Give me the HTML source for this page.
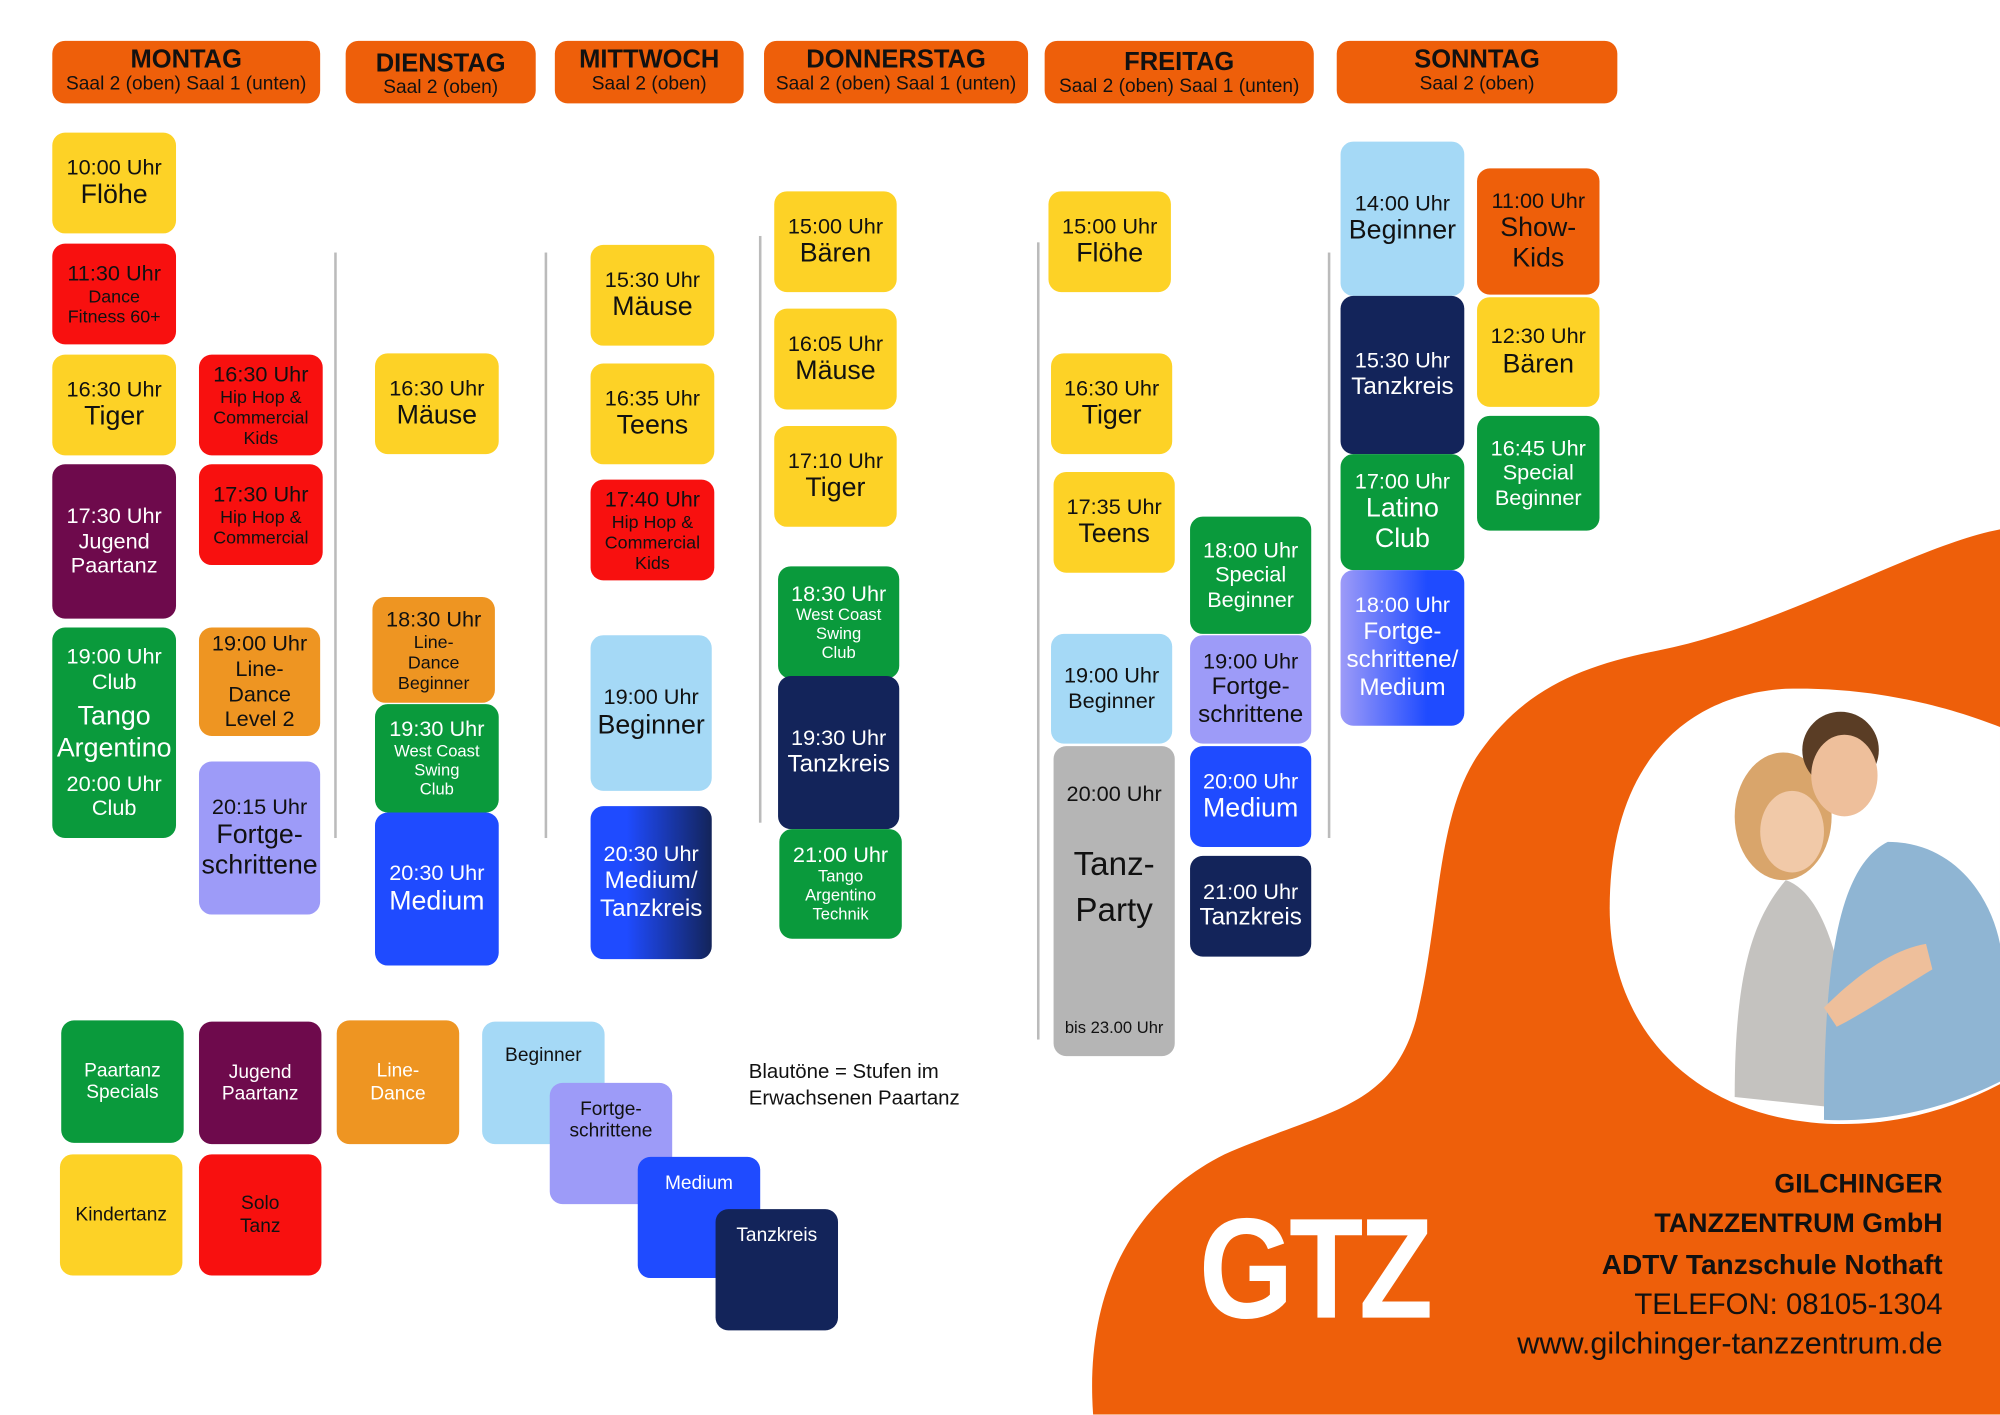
<!DOCTYPE html>
<html><head><meta charset="utf-8">
<style>
html,body{margin:0;padding:0;background:#fff;overflow:hidden;width:2000px;height:1414px}
#s{position:absolute;left:0;top:0;width:1568px;height:1109px;transform:scale(1.27551);transform-origin:0 0;font-family:"Liberation Sans",sans-serif;overflow:hidden}
.b{position:absolute;border-radius:10px;display:flex;flex-direction:column;justify-content:center;align-items:center;text-align:center;line-height:1.15;box-sizing:border-box;padding:2px}
.t{font-size:17px}.n{font-size:21px}.sm{font-size:14px}.xs{font-size:13px}
.y{background:#FDD226;color:#111}.r{background:#F8100F;color:#111}.p{background:#6E0A4C;color:#fff}.g{background:#0A9A3C;color:#fff}
.o{background:#EE9522;color:#111}.lb{background:#A5D9F6;color:#111}.lv{background:#9D9BF8;color:#111}.bl{background:#1F4BFF;color:#fff}
.nv{background:#13245A;color:#fff}.gr{background:#B5B5B5;color:#111}.or{background:#EE5F0A;color:#111}
.h{position:absolute;background:#EE5F0A;border-radius:10px;text-align:center;color:#111;top:32px;height:49px;box-sizing:border-box;padding-top:5px}
.h b{display:block;font-size:20px;line-height:20px}.h span{font-size:15px;line-height:17px}
.l{position:absolute;width:2px;background:#bbb}
.co{position:absolute;right:45px;text-align:right;color:#111;white-space:nowrap}
</style></head><body><div id="s">
<svg width="1568" height="1109" style="position:absolute;left:0;top:0">
<path d="M857,1109 C850,1010 890,940 960,905 C1040,870 1090,870 1110,800 C1130,720 1125,640 1160,590 C1195,540 1240,522 1300,510 C1400,490 1500,428 1568,415 L1568,1109 Z" fill="#EE5F0A"/>
<path d="M1262,712 C1262,600 1320,545 1400,540 C1470,538 1530,555 1568,570 L1568,850 C1520,875 1470,885 1420,880 C1320,870 1262,800 1262,712 Z" fill="#fff"/>
<path d="M1360,860 C1360,760 1375,720 1400,690 C1430,700 1450,760 1455,870 Z" fill="#c4c2bf"/>
<ellipse cx="1398" cy="640" rx="38" ry="50" fill="#d9a56b"/>
<ellipse cx="1405" cy="652" rx="25" ry="32" fill="#f1c9a8"/>
<path d="M1430,878 C1430,760 1440,680 1480,660 C1530,660 1560,700 1568,740 L1568,848 C1520,872 1470,880 1430,878 Z" fill="#8fb5d3"/>
<ellipse cx="1443" cy="588" rx="30" ry="30" fill="#5a3d25"/>
<ellipse cx="1446" cy="608" rx="26" ry="32" fill="#eebf9b"/>
<path d="M1430,790 C1450,770 1480,745 1510,740 L1515,760 C1490,775 1460,795 1440,805 Z" fill="#eebf9b"/>
</svg>
<div class="h" style="left:41px;width:210px"><b>MONTAG</b><span>Saal 2 (oben) Saal 1 (unten)</span></div>
<div class="h" style="left:271px;width:149px;padding-top:8px"><b>DIENSTAG</b><span>Saal 2 (oben)</span></div>
<div class="h" style="left:435px;width:148px"><b>MITTWOCH</b><span>Saal 2 (oben)</span></div>
<div class="h" style="left:599px;width:207px"><b>DONNERSTAG</b><span>Saal 2 (oben) Saal 1 (unten)</span></div>
<div class="h" style="left:819px;width:211px;padding-top:7px"><b>FREITAG</b><span>Saal 2 (oben) Saal 1 (unten)</span></div>
<div class="h" style="left:1048px;width:220px"><b>SONNTAG</b><span>Saal 2 (oben)</span></div>

<div class="l" style="left:262px;top:198px;height:459px"></div>
<div class="l" style="left:427px;top:198px;height:459px"></div>
<div class="l" style="left:595px;top:185px;height:460px"></div>
<div class="l" style="left:813px;top:190px;height:625px"></div>
<div class="l" style="left:1041px;top:198px;height:459px"></div>

<div class="b y" style="left:41px;top:104px;width:97px;height:79px"><div class="t">10:00 Uhr</div><div class="n">Flöhe</div></div>
<div class="b r" style="left:41px;top:191px;width:97px;height:79px"><div class="t">11:30 Uhr</div><div class="sm">Dance<br>Fitness 60+</div></div>
<div class="b y" style="left:41px;top:278px;width:97px;height:79px"><div class="t">16:30 Uhr</div><div class="n">Tiger</div></div>
<div class="b p" style="left:41px;top:364px;width:97px;height:121px"><div class="t">17:30 Uhr<br>Jugend<br>Paartanz</div></div>
<div class="b g" style="left:41px;top:492px;width:97px;height:165px"><div class="t">19:00 Uhr<br>Club</div><div class="n" style="margin:6px 0">Tango<br>Argentino</div><div class="t">20:00 Uhr<br>Club</div></div>
<div class="b r" style="left:156px;top:278px;width:97px;height:79px"><div class="t">16:30 Uhr</div><div class="sm">Hip Hop &amp;<br>Commercial<br>Kids</div></div>
<div class="b r" style="left:156px;top:364px;width:97px;height:79px"><div class="t">17:30 Uhr</div><div class="sm">Hip Hop &amp;<br>Commercial</div></div>
<div class="b o" style="left:156px;top:492px;width:95px;height:85px"><div class="t">19:00 Uhr<br>Line-<br>Dance<br>Level 2</div></div>
<div class="b lv" style="left:156px;top:597px;width:95px;height:120px"><div class="t">20:15 Uhr</div><div class="n">Fortge-<br>schrittene</div></div>

<div class="b y" style="left:294px;top:277px;width:97px;height:79px"><div class="t">16:30 Uhr</div><div class="n">Mäuse</div></div>
<div class="b o" style="left:292px;top:468px;width:96px;height:83px"><div class="t">18:30 Uhr</div><div class="sm">Line-<br>Dance<br>Beginner</div></div>
<div class="b g" style="left:294px;top:552px;width:97px;height:85px"><div class="t">19:30 Uhr</div><div class="xs">West Coast<br>Swing<br>Club</div></div>
<div class="b bl" style="left:294px;top:637px;width:97px;height:120px"><div class="t">20:30 Uhr</div><div class="n">Medium</div></div>

<div class="b y" style="left:463px;top:192px;width:97px;height:79px"><div class="t">15:30 Uhr</div><div class="n">Mäuse</div></div>
<div class="b y" style="left:463px;top:285px;width:97px;height:79px"><div class="t">16:35 Uhr</div><div class="n">Teens</div></div>
<div class="b r" style="left:463px;top:376px;width:97px;height:79px"><div class="t">17:40 Uhr</div><div class="sm">Hip Hop &amp;<br>Commercial<br>Kids</div></div>
<div class="b lb" style="left:463px;top:498px;width:95px;height:122px"><div class="t">19:00 Uhr</div><div class="n">Beginner</div></div>
<div class="b bl" style="left:463px;top:632px;width:95px;height:120px;background:linear-gradient(90deg,#1F4BFF 30%,#13245A)"><div class="t">20:30 Uhr</div><div class="t" style="font-size:19px">Medium/<br>Tanzkreis</div></div>

<div class="b y" style="left:607px;top:150px;width:96px;height:79px"><div class="t">15:00 Uhr</div><div class="n">Bären</div></div>
<div class="b y" style="left:607px;top:242px;width:96px;height:79px"><div class="t">16:05 Uhr</div><div class="n">Mäuse</div></div>
<div class="b y" style="left:607px;top:334px;width:96px;height:79px"><div class="t">17:10 Uhr</div><div class="n">Tiger</div></div>
<div class="b g" style="left:610px;top:444px;width:95px;height:88px"><div class="t">18:30 Uhr</div><div class="xs">West Coast<br>Swing<br>Club</div></div>
<div class="b nv" style="left:610px;top:530px;width:95px;height:120px"><div class="t">19:30 Uhr</div><div class="t" style="font-size:19px">Tanzkreis</div></div>
<div class="b g" style="left:611px;top:650px;width:96px;height:86px"><div class="t">21:00 Uhr</div><div class="xs">Tango<br>Argentino<br>Technik</div></div>

<div class="b y" style="left:822px;top:150px;width:96px;height:79px"><div class="t">15:00 Uhr</div><div class="n">Flöhe</div></div>
<div class="b y" style="left:824px;top:277px;width:95px;height:79px"><div class="t">16:30 Uhr</div><div class="n">Tiger</div></div>
<div class="b y" style="left:826px;top:370px;width:95px;height:79px"><div class="t">17:35 Uhr</div><div class="n">Teens</div></div>
<div class="b lb" style="left:824px;top:497px;width:95px;height:86px"><div class="t">19:00 Uhr<br>Beginner</div></div>
<div class="b gr" style="left:826px;top:585px;width:95px;height:243px;justify-content:flex-start;padding-top:28px"><div class="t">20:00 Uhr</div><div style="font-size:26px;margin-top:26px;line-height:1.4">Tanz-<br>Party</div><div class="xs" style="margin-top:auto;margin-bottom:12px">bis 23.00 Uhr</div></div>
<div class="b g" style="left:933px;top:405px;width:95px;height:92px"><div class="t">18:00 Uhr<br>Special<br>Beginner</div></div>
<div class="b lv" style="left:933px;top:498px;width:95px;height:85px"><div class="t">19:00 Uhr</div><div class="t" style="font-size:19px">Fortge-<br>schrittene</div></div>
<div class="b bl" style="left:933px;top:585px;width:95px;height:79px"><div class="t">20:00 Uhr</div><div class="n">Medium</div></div>
<div class="b nv" style="left:933px;top:671px;width:95px;height:79px"><div class="t">21:00 Uhr</div><div class="t" style="font-size:19px">Tanzkreis</div></div>

<div class="b lb" style="left:1051px;top:111px;width:97px;height:121px"><div class="t">14:00 Uhr</div><div class="n">Beginner</div></div>
<div class="b nv" style="left:1051px;top:232px;width:97px;height:124px"><div class="t">15:30 Uhr</div><div class="t" style="font-size:19px">Tanzkreis</div></div>
<div class="b g" style="left:1051px;top:356px;width:97px;height:91px"><div class="t">17:00 Uhr</div><div class="n">Latino<br>Club</div></div>
<div class="b bl" style="left:1051px;top:447px;width:97px;height:122px;background:linear-gradient(90deg,#9D9BF8,#1F4BFF 70%)"><div class="t">18:00 Uhr</div><div class="t" style="font-size:19px">Fortge-<br>schrittene/<br>Medium</div></div>
<div class="b or" style="left:1158px;top:132px;width:96px;height:99px"><div class="t">11:00 Uhr</div><div class="n">Show-<br>Kids</div></div>
<div class="b y" style="left:1158px;top:233px;width:96px;height:86px"><div class="t">12:30 Uhr</div><div class="n">Bären</div></div>
<div class="b g" style="left:1158px;top:326px;width:96px;height:90px"><div class="t">16:45 Uhr<br>Special<br>Beginner</div></div>

<div class="b g" style="left:48px;top:800px;width:96px;height:96px"><div class="t" style="font-size:15px">Paartanz<br>Specials</div></div>
<div class="b p" style="left:156px;top:801px;width:96px;height:96px"><div class="t" style="font-size:15px">Jugend<br>Paartanz</div></div>
<div class="b o" style="left:264px;top:800px;width:96px;height:97px;color:#fff"><div class="t" style="font-size:15px">Line-<br>Dance</div></div>
<div class="b y" style="left:47px;top:905px;width:96px;height:95px"><div class="t" style="font-size:15px">Kindertanz</div></div>
<div class="b r" style="left:156px;top:905px;width:96px;height:95px"><div class="t" style="font-size:15px">Solo<br>Tanz</div></div>
<div class="b lb" style="left:378px;top:801px;width:96px;height:96px;justify-content:flex-start;padding-top:18px"><div class="t" style="font-size:15px">Beginner</div></div>
<div class="b lv" style="left:431px;top:849px;width:96px;height:95px;justify-content:flex-start;padding-top:12px"><div class="t" style="font-size:15px">Fortge-<br>schrittene</div></div>
<div class="b bl" style="left:500px;top:907px;width:96px;height:95px;justify-content:flex-start;padding-top:12px"><div class="t" style="font-size:15px">Medium</div></div>
<div class="b nv" style="left:561px;top:948px;width:96px;height:95px;justify-content:flex-start;padding-top:12px"><div class="t" style="font-size:15px">Tanzkreis</div></div>
<div style="position:absolute;left:587px;top:830px;font-size:16px;line-height:21px;color:#111">Blautöne = Stufen im<br>Erwachsenen Paartanz</div>

<div style="position:absolute;left:940px;top:935px;font-size:112px;font-weight:bold;color:#fff;letter-spacing:-4px;line-height:120px;transform:scaleX(0.85);transform-origin:0 0">GTZ</div>
<div class="co" style="top:917px;font-weight:bold;font-size:21px">GILCHINGER</div>
<div class="co" style="top:948px;font-weight:bold;font-size:21px">TANZZENTRUM GmbH</div>
<div class="co" style="top:979px;font-weight:bold;font-size:22px">ADTV Tanzschule Nothaft</div>
<div class="co" style="top:1009px;font-size:23px">TELEFON: 08105-1304</div>
<div class="co" style="top:1040px;font-size:24px">www.gilchinger-tanzzentrum.de</div>
</div></body></html>
